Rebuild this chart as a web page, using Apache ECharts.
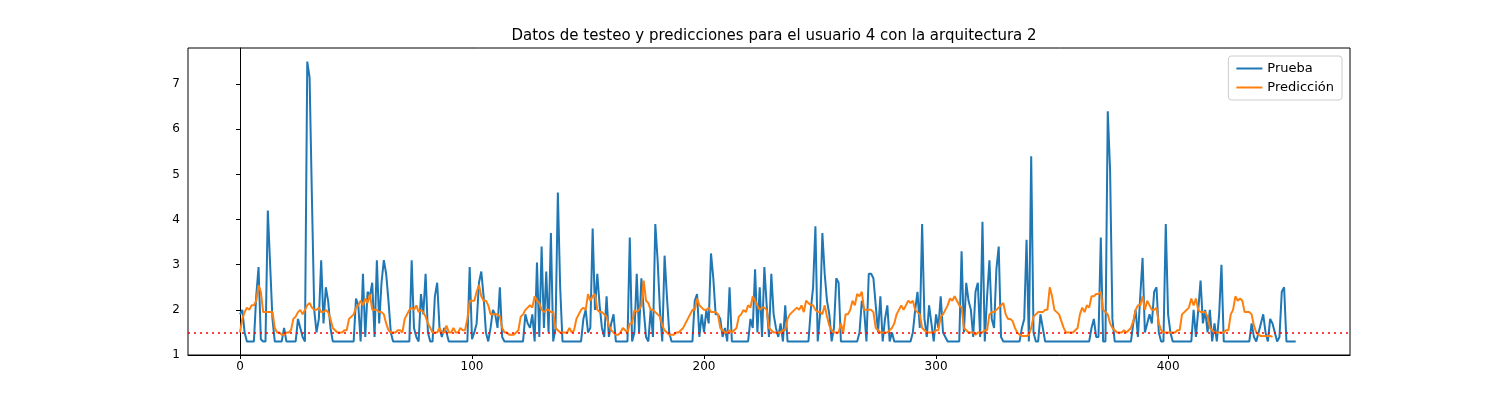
<!DOCTYPE html>
<html lang="es">
<head>
    <meta charset="UTF-8">
    <title>Usuario 4</title>
    <script src="https://cdn.jsdelivr.net/npm/echarts@6.0.0/dist/echarts.min.js"></script>
</head>
<body style="margin:0">
    <div id="main" style="width:1500px;height:400px;"></div>
    <script type="text/javascript">
        // Valores (aproximados)
        let prueba = [
            1.9,2.0,1.5,1.3,1.3,1.3,1.3,2.3,2.95,1.35,
            1.3,1.3,4.2,3.0,1.8,1.3,1.3,1.3,1.3,1.6,
            1.3,1.3,1.3,1.3,1.3,1.8,1.6,1.4,1.3,7.5,
            7.15,4.5,2.0,1.5,1.8,3.1,1.7,2.5,2.2,1.6,
            1.3,1.3,1.3,1.3,1.3,1.3,1.3,1.3,1.3,1.3,
            2.25,2.1,1.3,2.8,1.4,2.4,2.3,2.6,1.4,3.1,
            1.7,2.6,3.1,2.8,2.2,1.5,1.3,1.3,1.3,1.3,
            1.3,1.3,1.3,1.3,3.1,1.6,1.4,1.3,2.35,1.9,
            2.8,1.5,1.3,1.3,2.3,2.6,1.6,1.4,1.6,1.5,
            1.3,1.3,1.3,1.3,1.3,1.3,1.3,1.3,1.3,2.95,
            1.35,1.5,1.7,2.6,2.85,2.3,1.5,1.3,1.6,2.0,
            1.9,1.6,2.5,1.4,1.3,1.3,1.3,1.3,1.3,1.3,
            1.3,1.3,1.3,1.9,1.7,1.6,1.9,1.3,3.05,1.4,
            3.4,1.6,2.85,1.5,3.7,1.3,1.6,4.6,2.5,1.3,
            1.3,1.3,1.3,1.3,1.3,1.3,1.3,1.3,1.8,2.0,
            1.5,1.6,3.8,2.0,2.8,2.1,1.6,1.4,2.3,1.4,
            1.7,1.9,1.3,1.3,1.3,1.3,1.3,1.3,3.6,1.3,
            1.5,2.8,1.5,2.7,2.0,1.4,1.3,2.0,1.4,3.9,
            3.1,2.0,1.3,3.2,2.3,1.5,1.3,1.3,1.3,1.3,
            1.3,1.3,1.3,1.3,1.3,1.3,2.2,2.35,1.4,1.9,
            1.5,2.0,1.7,3.25,2.7,1.9,1.9,1.8,1.4,1.6,
            1.3,2.5,1.3,1.3,1.3,1.3,1.3,1.3,1.3,1.3,
            1.8,1.6,2.9,1.5,2.5,1.4,2.95,2.1,1.4,2.8,
            1.9,1.6,1.4,1.7,1.3,2.1,1.3,1.3,1.3,1.3,
            1.3,1.3,1.3,1.3,1.3,1.3,2.0,2.5,3.85,1.3,
            1.9,3.7,2.8,2.2,1.9,1.3,1.6,2.7,2.6,1.3,
            1.3,1.3,1.3,1.3,1.3,1.3,1.3,1.5,2.2,2.0,
            1.3,2.8,2.8,2.7,2.1,1.5,2.3,1.3,1.8,2.1,
            1.3,1.5,1.3,1.3,1.3,1.3,1.3,1.3,1.3,1.3,
            1.5,2.0,2.4,1.6,3.9,1.8,1.4,2.1,1.7,1.3,
            1.9,1.6,2.3,1.5,1.4,1.3,1.3,1.3,1.3,1.3,
            1.3,3.3,1.5,2.6,2.2,2.0,1.4,2.4,2.6,1.4,
            3.95,1.3,2.3,3.1,1.8,1.6,2.9,3.4,1.4,1.3,
            1.3,1.3,1.3,1.3,1.3,1.3,1.3,1.6,1.8,3.55,
            1.3,5.4,1.5,1.3,1.3,1.9,1.6,1.3,1.3,1.3,
            1.3,1.3,1.3,1.3,1.3,1.3,1.3,1.3,1.3,1.3,
            1.3,1.3,1.3,1.3,1.3,1.3,1.3,1.6,1.8,1.4,
            1.4,3.6,1.3,1.3,6.4,5.1,1.8,1.3,1.3,1.3,
            1.3,1.3,1.3,1.3,1.3,1.7,2.0,1.4,2.3,3.15,
            1.5,1.7,1.9,1.7,2.4,2.5,1.5,1.3,1.3,3.9,
            1.9,1.5,1.3,1.3,1.3,1.3,1.3,1.3,1.3,1.3,
            1.3,2.0,1.4,2.0,2.65,1.7,2.0,1.5,2.0,1.3,
            1.7,1.3,1.9,3.0,1.3,1.3,1.3,1.3,1.3,1.3,
            1.3,1.3,1.3,1.3,1.3,1.3,1.7,1.4,1.3,1.5,
            1.7,1.9,1.5,1.3,1.8,1.7,1.5,1.3,1.4,2.4,
            2.5,1.3,1.3,1.3,1.3,1.3
        ];
        let prediccion = [
            1.5,1.8,1.95,2.05,2.0,2.1,2.1,2.2,2.55,2.4,
            1.95,1.95,1.95,1.95,1.95,1.6,1.5,1.5,1.45,1.45,
            1.5,1.5,1.55,1.8,1.85,1.95,2.0,1.9,2.0,2.1,
            2.15,2.05,2.0,2.0,2.05,1.95,1.95,2.0,1.95,1.8,
            1.6,1.55,1.5,1.5,1.5,1.55,1.55,1.8,1.85,1.9,
            2.05,2.1,2.2,2.1,2.25,2.15,2.35,2.0,2.0,2.0,
            1.95,1.95,1.9,1.7,1.55,1.5,1.5,1.5,1.55,1.55,
            1.5,1.8,1.9,2.0,2.05,2.0,2.1,1.95,2.0,1.95,
            1.85,1.7,1.6,1.5,1.5,1.5,1.6,1.5,1.5,1.65,
            1.5,1.5,1.6,1.5,1.5,1.6,1.55,1.55,1.8,2.2,
            2.2,2.2,2.4,2.55,2.3,2.2,2.2,2.1,1.9,1.9,
            1.9,1.9,1.85,1.6,1.5,1.5,1.45,1.45,1.45,1.5,
            1.55,1.85,1.9,2.0,2.05,2.1,2.05,2.3,2.2,2.15,
            2.0,1.95,2.0,2.0,1.95,1.95,1.6,1.55,1.5,1.5,
            1.5,1.5,1.6,1.5,1.55,1.8,1.9,2.0,2.05,2.0,
            2.35,2.2,2.3,2.35,2.0,1.95,1.95,1.9,1.85,1.65,
            1.55,1.5,1.45,1.45,1.5,1.6,1.55,1.5,1.7,1.7,
            2.0,1.95,2.0,2.1,2.65,2.2,2.15,2.0,2.0,1.95,
            1.9,1.85,1.65,1.55,1.5,1.45,1.45,1.45,1.5,1.5,
            1.55,1.6,1.7,1.8,1.9,2.0,2.0,2.25,2.1,2.05,
            2.0,2.0,2.05,1.95,1.95,1.95,1.9,1.6,1.55,1.5,
            1.5,1.55,1.5,1.55,1.6,1.85,1.9,2.0,1.95,2.1,
            2.05,2.3,2.2,2.1,2.0,2.05,2.05,2.0,1.6,1.55,
            1.5,1.5,1.5,1.5,1.55,1.55,1.8,1.9,1.95,2.0,
            2.05,2.0,2.1,1.95,2.2,2.15,2.1,2.1,2.0,1.95,
            1.95,1.9,2.1,1.85,1.65,1.55,1.5,1.5,1.5,1.7,
            1.5,1.9,1.9,2.0,2.2,2.1,2.35,2.3,2.4,2.0,
            2.0,2.0,2.0,1.95,1.6,1.55,1.5,1.5,1.5,1.5,
            1.55,1.6,1.7,1.9,2.0,2.1,2.0,2.1,2.2,2.15,
            2.2,2.0,1.95,1.9,1.6,1.55,1.5,1.5,1.5,1.5,
            1.55,1.55,1.85,1.9,2.0,2.1,2.25,2.2,2.3,2.2,
            2.1,2.05,1.6,1.55,1.5,1.5,1.5,1.45,1.5,1.5,
            1.5,1.55,1.55,1.9,1.95,1.95,2.0,2.05,2.1,2.15,
            1.9,1.8,1.8,1.75,1.6,1.5,1.45,1.42,1.42,1.42,
            1.45,1.6,1.85,1.9,1.95,1.95,1.95,2.0,2.0,2.5,
            2.3,2.0,1.95,1.9,1.75,1.6,1.5,1.5,1.5,1.5,
            1.55,1.6,1.9,2.05,1.95,2.1,2.05,2.3,2.3,2.35,
            2.35,2.4,2.0,1.95,1.9,1.7,1.6,1.55,1.5,1.5,
            1.5,1.55,1.5,1.55,1.6,1.75,2.0,2.1,2.1,2.3,
            2.0,2.2,2.1,2.0,2.0,2.05,1.7,1.55,1.5,1.5,
            1.5,1.5,1.5,1.5,1.55,1.55,1.9,1.95,2.0,2.05,
            2.25,2.1,2.25,2.0,1.95,1.95,1.95,1.85,1.6,1.55,
            1.5,1.5,1.5,1.5,1.5,1.55,1.55,1.9,2.0,2.3,
            2.2,2.25,2.2,1.95,1.95,1.95,1.9,1.65,1.5,1.45,
            1.42,1.42,1.42,1.42,1.42,1.4
        ];
        let xTicks = [0, 100, 200, 300, 400];
        let yTicks = [1, 2, 3, 4, 5, 6, 7];
        let lineaRef = 1.5;

        let myChart = echarts.init(document.getElementById('main'));
        const txt = { color: '#000', fontFamily: 'DejaVu Sans', fontSize: 12 };
        let options = {
            animation: false,
            title: {
                text: 'Datos de testeo y predicciones para el usuario 4 con la arquitectura 2',
                left: 769, top: 24, textAlign: 'center',
                textStyle: { fontFamily: 'DejaVu Sans', fontSize: 15, fontWeight: 'normal', color: '#000' }
            },
            legend: {
                right: 158, top: 56, orient: 'vertical', itemGap: 6,
                borderColor: '#ccc', borderWidth: 1, borderRadius: 3, padding: [6, 8],
                itemWidth: 26, itemHeight: 2, icon: 'rect',
                textStyle: Object.assign({}, txt, { fontSize: 13 })
            },
            grid: { left: 188, right: 150, top: 48, bottom: 45 },
            xAxis: {
                type: 'value', min: -22.4, max: 478.4,
                splitLine: { show: false },
                axisLine: { onZero: false, lineStyle: { color: '#000' } },
                axisTick: { customValues: xTicks, length: 4, lineStyle: { color: '#000' } },
                axisLabel: Object.assign({ customValues: xTicks, margin: 6 }, txt)
            },
            yAxis: {
                type: 'value', min: 1, max: 7.8,
                splitLine: { show: false },
                axisLine: { show: true, lineStyle: { color: '#000' } },
                axisTick: { show: true, customValues: yTicks, length: 4, lineStyle: { color: '#000' } },
                axisLabel: Object.assign({ customValues: yTicks, margin: 8 }, txt)
            },
            series: [
                {
                    name: 'Prueba', type: 'line', showSymbol: false,
                    data: prueba.map((v, i) => [i, v]),
                    lineStyle: { color: '#1f77b4', width: 2 }, itemStyle: { color: '#1f77b4' },
                    markLine: {
                        silent: true, symbol: 'none', label: { show: false },
                        lineStyle: { color: '#ff0000', type: [2, 4], width: 1.5 },
                        data: [{ yAxis: lineaRef }]
                    }
                },
                {
                    name: 'Predicción', type: 'line', showSymbol: false,
                    data: prediccion.map((v, i) => [i, v]),
                    lineStyle: { color: '#ff7f0e', width: 2 }, itemStyle: { color: '#ff7f0e' }
                }
            ]
        };
        myChart.setOption(options);
        // top/right border of the plot box
        myChart.setOption({
            graphic: [{ type: 'rect', shape: { x: 188, y: 48, width: 1162, height: 307 },
                style: { fill: 'none', stroke: '#000', lineWidth: 1 }, silent: true }]
        });
    </script>
</body>
</html>
